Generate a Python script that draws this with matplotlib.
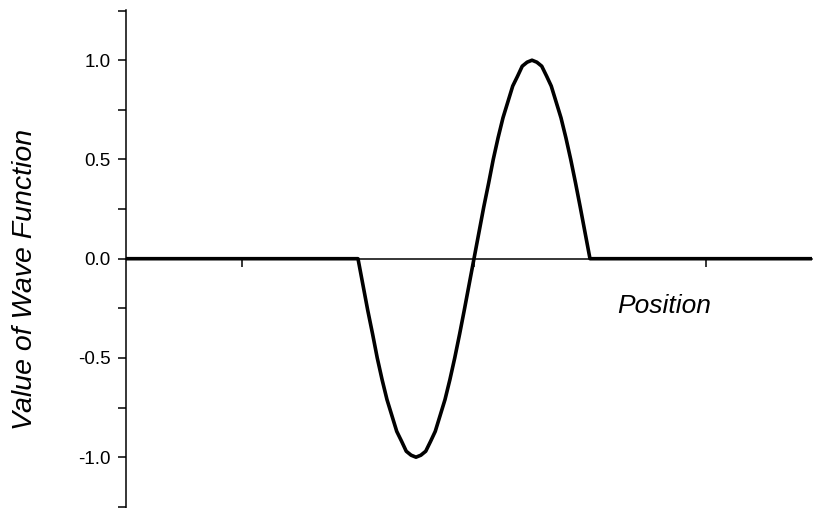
import matplotlib
matplotlib.use("Agg")
import matplotlib.pyplot as plt
from matplotlib.ticker import MultipleLocator, FormatStrFormatter

plt.rcParams['font.family'] = ['Liberation Sans', 'DejaVu Sans']
plt.rcParams['axes.unicode_minus'] = False

# position (x ticks at 1, 2, 3) and wave function value
x_pos = [0.5,
         1.5, 1.521, 1.542, 1.563, 1.583, 1.604, 1.625, 1.646, 1.667, 1.688,
         1.708, 1.729, 1.75, 1.771, 1.792, 1.813, 1.833, 1.854, 1.875, 1.896,
         1.917, 1.938, 1.958, 1.979, 2.0,
         2.021, 2.042, 2.063, 2.083, 2.104, 2.125, 2.146, 2.167, 2.188,
         2.208, 2.229, 2.25, 2.271, 2.292, 2.313, 2.333, 2.354, 2.375, 2.396,
         2.417, 2.438, 2.458, 2.479, 2.5,
         3.46]
psi = [0,
       0, -0.13, -0.26, -0.38, -0.5, -0.61, -0.71, -0.79, -0.87, -0.92,
       -0.97, -0.99, -1.0, -0.99, -0.97, -0.92, -0.87, -0.79, -0.71, -0.61,
       -0.5, -0.38, -0.26, -0.13, 0,
       0.13, 0.26, 0.38, 0.5, 0.61, 0.71, 0.79, 0.87, 0.92,
       0.97, 0.99, 1.0, 0.99, 0.97, 0.92, 0.87, 0.79, 0.71, 0.61,
       0.5, 0.38, 0.26, 0.13, 0,
       0]

x_ticks = [1, 2, 3]
y_ticks = [-1.0, -0.5, 0.0, 0.5, 1.0]

fig = plt.figure(figsize=(8.13, 5.08), dpi=100)
ax = fig.add_axes([126/813, 0, 686/813, 498/508])

ax.plot(x_pos, psi, color='black', lw=2.6, solid_capstyle='butt',
        solid_joinstyle='round', zorder=3)

ax.set_xlim(0.5, 3.457)
ax.set_ylim(-1.256, 1.253)

ax.spines['top'].set_visible(False)
ax.spines['right'].set_visible(False)
ax.spines['bottom'].set_position(('data', 0))
ax.spines['left'].set_linewidth(1.1)
ax.spines['bottom'].set_linewidth(1.1)

ax.set_xticks(x_ticks)
ax.set_xticklabels([])
ax.tick_params(axis='x', direction='out', length=6, width=1.1)

ax.set_yticks(y_ticks)
ax.yaxis.set_major_formatter(FormatStrFormatter('%.1f'))
ax.yaxis.set_minor_locator(MultipleLocator(0.25))
ax.tick_params(axis='y', which='both', direction='out', length=6, width=1.1,
               labelsize=13.5, pad=5)

ax.text(0.785, 0.405, 'Position', transform=ax.transAxes, style='italic',
        fontsize=19, ha='center', va='center')
fig.text(25/813, 1 - 279/508, 'Value of Wave Function', rotation=90,
         style='italic', fontsize=20.5, ha='center', va='center')

fig.savefig('out.png', dpi=100)
